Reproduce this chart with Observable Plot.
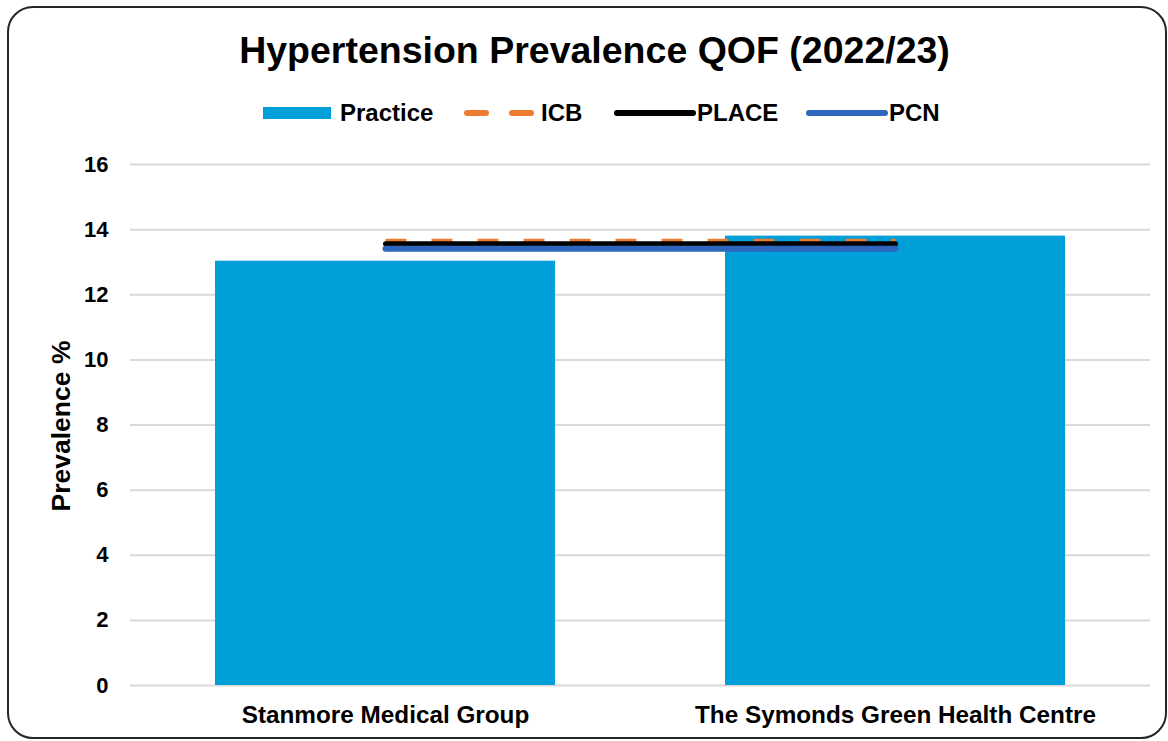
<!DOCTYPE html>
<html>
<head>
<meta charset="utf-8">
<script src="https://cdn.jsdelivr.net/npm/d3@7"></script>
<script src="https://cdn.jsdelivr.net/npm/@observablehq/plot@0.6"></script>
<style>
  html, body { margin: 0; padding: 0; background: #fff; }
  body { width: 1168px; height: 741px; position: relative; overflow: hidden; font-family: "Liberation Sans", Arial, sans-serif; }
  #frame { position: absolute; left: 7px; top: 6px; width: 1156px; height: 729px; border: 2px solid #262626; border-radius: 26px; box-sizing: content-box; }
  #title { position: absolute; left: 0; width: 1189px; top: 28px; text-align: center; font-weight: bold; font-size: 37.5px; color: #000; line-height: 44px; }
  #legend { position: absolute; left: 0; top: 98px; width: 1168px; height: 30px; }
  .item { position: absolute; top: 0; display: flex; align-items: center; height: 30px; font-weight: bold; font-size: 24px; color: #000; }
  .item svg { display: block; }
  #ylabel { position: absolute; left: 61px; top: 426px; transform: translate(-50%, -50%) rotate(-90deg); font-weight: bold; font-size: 26.5px; white-space: nowrap; color: #000; }
  #chart { position: absolute; left: 0; top: 140px; }
</style>
</head>
<body>
<div id="frame"></div>
<div id="title">Hypertension Prevalence QOF (2022/23)</div>
<div id="legend"></div>
<div id="ylabel">Prevalence %</div>
<div id="chart"></div>
<script>
// ---- data ----
const practices = ["Stanmore Medical Group", "The Symonds Green Health Centre"];
const practiceValues = [13.03, 13.8];
const icbValues = [13.64, 13.64];
const placeValues = [13.57, 13.57];
const pcnValues = [13.41, 13.41];
const yTicks = [0, 2, 4, 6, 8, 10, 12, 14, 16];
const seriesNames = ["Practice", "ICB", "PLACE", "PCN"];
const seriesColors = ["#009fd9", "#ed7d31", "#000000", "#2f66bd"];

const rows = practices.map((p, i) => ({
  practice: p, practiceValue: practiceValues[i], icb: icbValues[i], place: placeValues[i], pcn: pcnValues[i]
}));

// ---- legend ----
const legend = document.getElementById("legend");
const legendLeft = [263, 463, 613, 805];
const ns = "http://www.w3.org/2000/svg";
seriesNames.forEach((name, i) => {
  const item = document.createElement("div");
  item.className = "item";
  item.style.left = legendLeft[i] + "px";
  const svg = document.createElementNS(ns, "svg");
  svg.setAttribute("height", "14");
  if (i === 0) {
    svg.setAttribute("width", "77");
    const r = document.createElementNS(ns, "rect");
    r.setAttribute("x", 0); r.setAttribute("y", 1); r.setAttribute("width", 68); r.setAttribute("height", 12);
    r.setAttribute("fill", seriesColors[0]);
    svg.appendChild(r);
  } else {
    svg.setAttribute("width", i === 1 ? "78" : "84");
    const l = document.createElementNS(ns, "line");
    l.setAttribute("x1", 4); l.setAttribute("x2", i === 1 ? 74 : 80);
    l.setAttribute("y1", 7); l.setAttribute("y2", 7);
    l.setAttribute("stroke", seriesColors[i]);
    l.setAttribute("stroke-width", 6);
    l.setAttribute("stroke-linecap", "round");
    if (i === 1) l.setAttribute("stroke-dasharray", "19,26");
    svg.appendChild(l);
  }
  item.appendChild(svg);
  const t = document.createElement("span");
  t.textContent = name;
  item.appendChild(t);
  legend.appendChild(item);
});

// ---- chart ----
const chart = Plot.plot({
  width: 1168,
  height: 600,
  marginTop: 24,
  marginBottom: 55,
  marginLeft: 130,
  marginRight: 18,
  style: { fontFamily: "Liberation Sans, Arial, sans-serif", background: "transparent", overflow: "visible" },
  x: { domain: practices, paddingInner: 1 / 3, paddingOuter: 1 / 6, label: null },
  y: { domain: [0, 16], ticks: yTicks, label: null },
  marks: [
    Plot.gridY(yTicks, { stroke: "#d9d9d9", strokeOpacity: 1, strokeWidth: 2 }),
    Plot.barY(rows, { x: "practice", y: "practiceValue", fill: seriesColors[0] }),
    Plot.line(rows, { x: "practice", y: "icb", stroke: seriesColors[1], strokeWidth: 5, strokeDasharray: "21,25", strokeLinecap: "butt" }),
    Plot.line(rows, { x: "practice", y: "place", stroke: seriesColors[2], strokeWidth: 5, strokeLinecap: "round" }),
    Plot.line(rows, { x: "practice", y: "pcn", stroke: seriesColors[3], strokeWidth: 6, strokeLinecap: "round" }),
    Plot.axisY({ ticks: yTicks, tickSize: 0, tickPadding: 22, fontSize: 22, fontWeight: "bold", label: null, tickFormat: d => String(d) }),
    Plot.axisX({ tickSize: 0, tickPadding: 20, fontSize: 24.3, fontWeight: "bold", label: null })
  ]
});
chart.querySelectorAll("text").forEach(t => t.setAttribute("fill", "#000"));
document.getElementById("chart").appendChild(chart);
</script>
</body>
</html>
